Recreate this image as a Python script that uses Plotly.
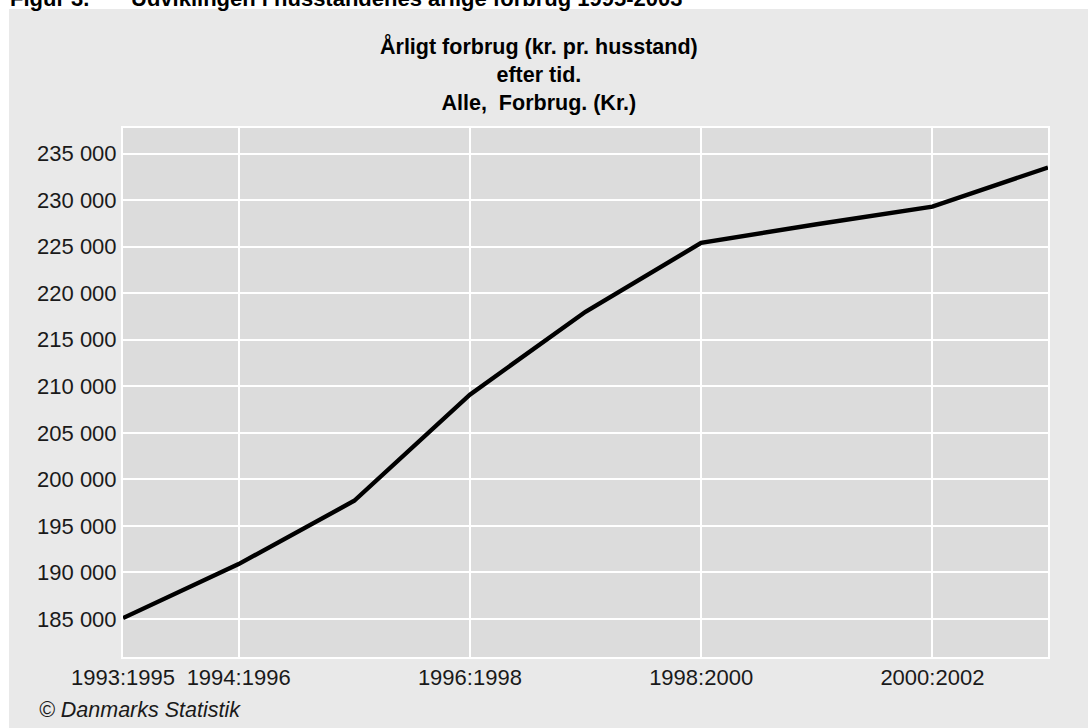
import plotly.graph_objects as go

# Household consumption per period (kr. per household)
periods = ["1993:1995", "1994:1996", "1995:1997", "1996:1998", "1997:1999",
           "1998:2000", "1999:2001", "2000:2002", "2001:2003"]
forbrug = [185100, 190900, 197700, 209100, 218000, 225400, 227400, 229300, 233500]

x_tick_labels = ["1993:1995", "1994:1996", "1996:1998", "1998:2000", "2000:2002"]
y_ticks = [185000, 190000, 195000, 200000, 205000, 210000, 215000,
           220000, 225000, 230000, 235000]

W, H = 1088, 728
L, R, T, B = 123, 1048, 128, 657  # plot area in pixels
PW, PH = R - L, B - T


def px_x(p):
    return (p - L) / PW


def px_y(p):
    return (B - p) / PH


FONT = "Liberation Sans, Arial, sans-serif"

fig = go.Figure()
fig.add_trace(go.Scatter(
    x=periods, y=forbrug, mode="lines",
    line=dict(color="black", width=4.4),
    hoverinfo="skip", showlegend=False,
))

fig.update_layout(
    width=W, height=H,
    margin=dict(l=L, r=W - R, t=T, b=H - B, pad=0),
    paper_bgcolor="#e9e9e9",
    plot_bgcolor="#dcdcdc",
    separators=", ",
    font=dict(family=FONT, size=22, color="#1a1a1a"),
    showlegend=False,
)

fig.update_xaxes(
    type="category",
    categoryorder="array", categoryarray=periods,
    range=[0, len(periods) - 1],
    tickmode="array", tickvals=x_tick_labels, ticktext=x_tick_labels,
    showgrid=True, gridcolor="white", gridwidth=2,
    showline=True, linecolor="white", linewidth=2, mirror=True,
    ticks="", ticklen=0,
    zeroline=False,
    tickfont=dict(family=FONT, size=22, color="#1a1a1a"),
)

fig.update_yaxes(
    range=[180920, 237740],
    tickmode="array", tickvals=y_ticks, tickformat=",d",
    showgrid=True, gridcolor="white", gridwidth=2,
    showline=True, linecolor="white", linewidth=2, mirror=True,
    ticks="", ticklen=0,
    zeroline=False,
    tickfont=dict(family=FONT, size=22, color="#1a1a1a"),
)

# White margin strips around the grey panel
fig.add_shape(type="rect", xref="paper", yref="paper",
              x0=px_x(0), x1=px_x(W), y0=px_y(9), y1=px_y(-2),
              fillcolor="white", line_width=0, layer="below")
fig.add_shape(type="rect", xref="paper", yref="paper",
              x0=px_x(-2), x1=px_x(9), y0=px_y(H + 2), y1=px_y(-2),
              fillcolor="white", line_width=0, layer="below")

# Figure caption above the panel
fig.add_annotation(
    text="<b>Figur 3.</b>", xref="paper", yref="paper",
    x=px_x(9), y=px_y(12), xanchor="left", yanchor="bottom",
    showarrow=False, borderpad=0,
    font=dict(family=FONT, size=22, color="black"),
)
fig.add_annotation(
    text="<b>Udviklingen i husstandenes årlige forbrug 1995-2003</b>",
    xref="paper", yref="paper",
    x=px_x(130), y=px_y(12), xanchor="left", yanchor="bottom",
    showarrow=False, borderpad=0,
    font=dict(family=FONT, size=22, color="black"),
)

# Chart title
fig.add_annotation(
    text="<b>Årligt forbrug (kr. pr. husstand)<br>efter tid.<br>Alle,  Forbrug. (Kr.)</b>",
    xref="paper", yref="paper",
    x=px_x(539), y=px_y(74), xanchor="center", yanchor="middle",
    showarrow=False, align="center",
    font=dict(family=FONT, size=21.5, color="black"),
)

# Source
fig.add_annotation(
    text="<i>© Danmarks Statistik</i>", xref="paper", yref="paper",
    x=px_x(37), y=px_y(710), xanchor="left", yanchor="middle",
    showarrow=False,
    font=dict(family=FONT, size=21.5, color="#1a1a1a"),
)

fig.write_html("out.html")
